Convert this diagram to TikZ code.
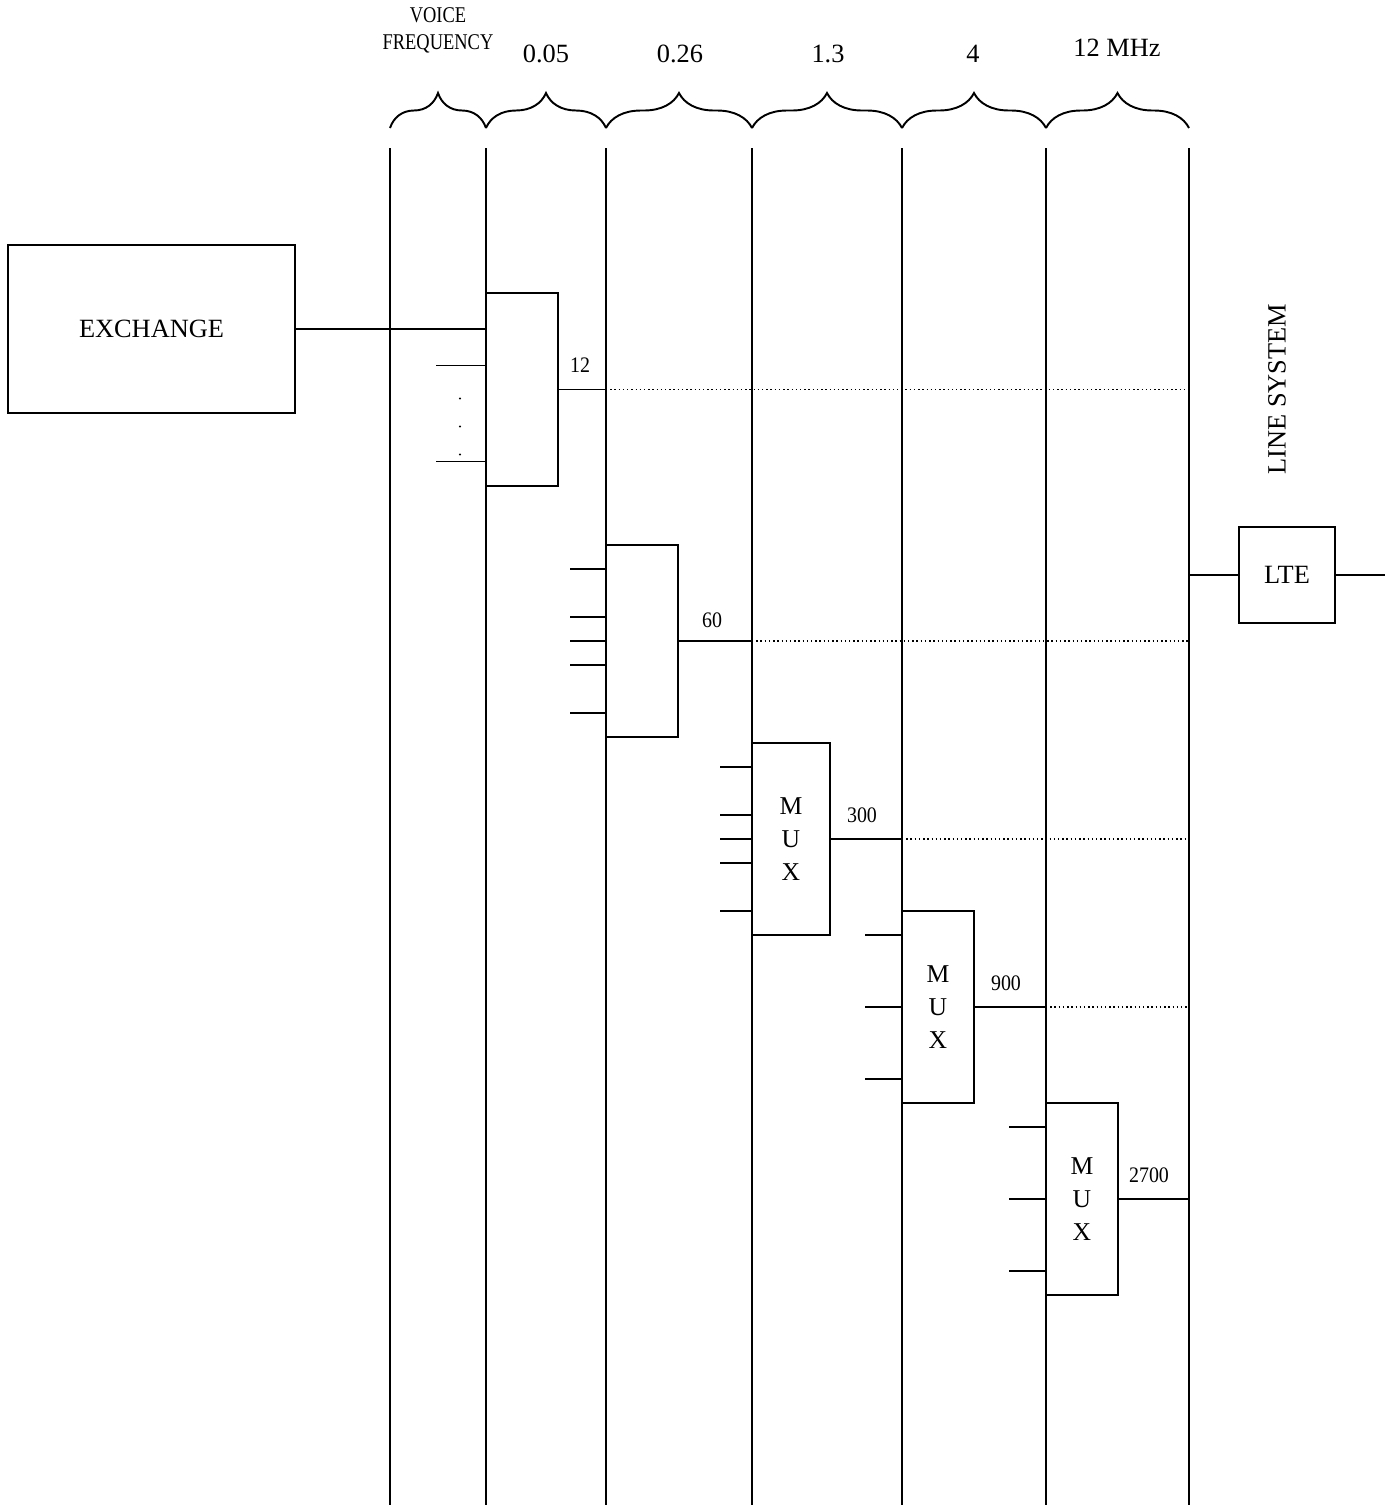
\documentclass[tikz,border=0pt]{standalone}
\usepackage{fontspec}
\setmainfont{Liberation Serif}
\usetikzlibrary{positioning,decorations.pathreplacing}

\begin{document}
\begin{tikzpicture}[x=0.1mm,y=-0.1mm,line width=0.55pt,
 lbl/.style={font=\fontsize{7.5}{9}\selectfont},
 hdr/.style={font=\fontsize{6.4}{7.7}\selectfont,align=center,xscale=0.82,transform shape},
 rate/.style={font=\fontsize{6.3}{7.5}\selectfont,xscale=0.9,transform shape},
 muxbox/.style={draw,rectangle,inner sep=0pt,minimum width=7.2mm,minimum height=19.2mm,align=center,font=\fontsize{7.3}{9.4}\selectfont},
 dotline/.style={line width=0.4pt,dash pattern=on 0.4pt off 0.8pt},
 band/.style={decorate,decoration={brace,amplitude=3.5mm}}]
\useasboundingbox (0,0) rectangle (1391,1505);
% frequency levels
\foreach \x/\n in {390/v0,486/v1,606/v2,752/v3,902/v4,1046/v5,1189/v6}{
  \coordinate (\n) at (\x,148);
  \draw (\n) -- (\x,1505);}
\foreach \a/\b in {390/486,486/606,606/752,752/902,902/1046,1046/1189}
  \draw[band] (\a,128) -- (\b,128);
\node[hdr] (vf) at (438,30) {VOICE\\FREQUENCY};
\node[lbl] (f1) at (546,54) {0.05};
\node[lbl] (f2) at (680,54) {0.26};
\node[lbl] (f3) at (828,54) {1.3};
\node[lbl] (f4) at (973,54) {4};
\node[lbl] (f5) at (1117,48) {12 MHz};
% exchange and multiplexers
\node[draw,lbl,minimum width=28.7mm,minimum height=16.8mm] (exch) at (151.5,329) {EXCHANGE};
\node[muxbox,minimum height=19.3mm] (m1) at (522,389.5) {};
\node[muxbox] (m2) at (642,641) {};
\node[muxbox,minimum width=7.8mm] (m3) at (791,839) {M\\U\\X};
\node[muxbox] (m4) at (938,1007) {M\\U\\X};
\node[muxbox] (m5) at (1082,1199) {M\\U\\X};
\coordinate (ls) at (1189,575);
\node[draw,lbl,minimum size=9.6mm,right=4.9mm of ls] (lte) {LTE};
\node[lbl,rotate=90] (sys) at (1277,389) {LINE SYSTEM};
% inputs
\draw (exch.east) -- (exch.east -| m1.west);
\draw (m1.west) ++(0,-24) -- ++(-49,0);
\draw (m1.west) ++(0,72) -- ++(-49,0);
\foreach \d in {9,37,65} \fill (m1.west) ++(-25,\d) circle (0.12mm);
\foreach \d in {-72,-24,0,24,72} \draw (m2.west) ++(0,\d) -- ++(-35,0);
\foreach \d in {-72,-24,0,24,72} \draw (m3.west) ++(0,\d) -- ++(-31,0);
\foreach \d in {-72,0,72} \draw (m4.west) ++(0,\d) -- ++(-36,0);
\foreach \d in {-72,0,72} \draw (m5.west) ++(0,\d) -- ++(-36,0);
% outputs
\draw (m1.east) -- (m1.east -| v2); \draw[dotline] (m1.east -| v2) -- (m1.east -| v6);
\draw (m2.east) -- (m2.east -| v3); \draw[dotline] (m2.east -| v3) -- (m2.east -| v6);
\draw (m3.east) -- (m3.east -| v4); \draw[dotline] (m3.east -| v4) -- (m3.east -| v6);
\draw (m4.east) -- (m4.east -| v5); \draw[dotline] (m4.east -| v5) -- (m4.east -| v6);
\draw (m5.east) -- (m5.east -| v6);
\node[rate] at (580,365) {12};
\node[rate] at (712,620) {60};
\node[rate] at (862,815) {300};
\node[rate] at (1006,983) {900};
\node[rate] at (1149,1175) {2700};
\draw (ls) -- (lte.west); \draw (lte.east) -- ++(49,0);
\end{tikzpicture}
\end{document}
